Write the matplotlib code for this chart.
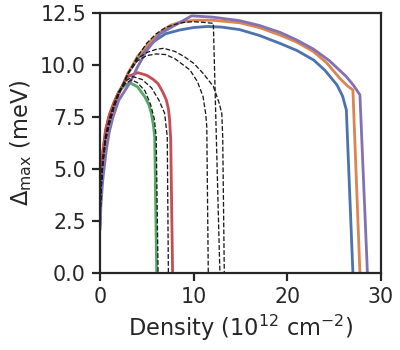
import matplotlib
matplotlib.use('Agg')
import matplotlib.pyplot as plt
import seaborn as sns

# solid curves: density (1e12 cm^-2) vs gap (meV)
blue_x = [0, 0.1, 0.3, 0.6, 1, 1.5, 2, 3, 4, 5.3, 7, 8.5, 10, 11.5, 13, 14.9, 17, 19.2, 21, 22.8, 24, 25.3, 25.9, 26.3, 27.0]
blue_y = [2.3, 3.9, 5.2, 6.4, 7.2, 8.0, 8.6, 9.6, 10.3, 11.0, 11.5, 11.68, 11.8, 11.85, 11.82, 11.7, 11.42, 11.04, 10.7, 10.24, 9.75, 9.04, 8.5, 7.84, 0]
orange_x = [0, 0.1, 0.3, 0.6, 1, 1.5, 2, 3, 4, 5.3, 6.5, 7.5, 8.5, 10, 12, 14.9, 17, 19.2, 21, 22.8, 24.2, 25.6, 26.4, 27.0, 27.75]
orange_y = [2.5, 4.0, 5.2, 6.4, 7.2, 8.0, 8.6, 9.6, 10.4, 11.1, 11.6, 11.9, 12.05, 12.15, 12.15, 12.03, 11.8, 11.44, 11.1, 10.64, 10.1, 9.36, 9.0, 8.8, 0]
green_x = [0, 0.1, 0.3, 0.6, 1, 1.5, 2, 2.6, 3.17, 4, 4.77, 5.2, 5.48, 5.7, 5.84, 6.05]
green_y = [3.0, 4.3, 5.8, 6.8, 7.6, 8.2, 8.7, 9.0, 9.15, 8.95, 8.48, 8.1, 7.68, 7.1, 6.55, 0]
red_x = [0, 0.1, 0.32, 0.6, 1, 1.5, 2, 3, 4.05, 5, 5.7, 6.2, 6.7, 7.08, 7.3, 7.43, 7.55, 7.75]
red_y = [3.5, 4.5, 5.9, 6.9, 7.6, 8.2, 8.7, 9.45, 9.63, 9.5, 9.3, 9.1, 8.7, 8.32, 7.9, 7.36, 6.4, 0]
purple_x = [0, 0.1, 0.3, 0.67, 1, 1.39, 2, 3.2, 4, 5, 6.4, 9.78, 12, 14.9, 17, 19.2, 21, 22.8, 24.5, 26.3, 27.1, 27.75, 28.55]
purple_y = [2.07, 3.3, 4.5, 5.9, 6.8, 7.5, 8.3, 9.15, 9.9, 10.7, 11.5, 12.36, 12.3, 12.13, 11.9, 11.57, 11.2, 10.76, 10.2, 9.44, 9.0, 8.56, 0]

# dashed reference curves
d1_x = [0, 0.1, 0.3, 0.6, 1, 1.5, 2, 2.7, 3.34, 4, 4.8, 5.4, 5.8, 6.0, 6.2]
d1_y = [2.5, 4.0, 5.5, 6.6, 7.4, 8.1, 8.7, 9.1, 9.28, 9.15, 8.75, 8.1, 7.4, 6.55, 0]
d2_x = [0, 0.1, 0.3, 0.6, 1, 1.5, 2, 2.8, 3.52, 4.5, 5.5, 6.3, 6.9, 7.18, 7.3]
d2_y = [2.5, 4.0, 5.5, 6.6, 7.4, 8.1, 8.7, 9.25, 9.44, 9.3, 8.9, 8.3, 7.68, 6.55, 0]
d3_x = [0, 0.1, 0.3, 0.6, 1, 1.5, 2, 3, 4, 5, 6, 7, 8, 9.6, 10.4, 11.0, 11.3, 11.4, 11.56]
d3_y = [2.5, 3.9, 5.3, 6.4, 7.2, 8.0, 8.6, 9.6, 10.2, 10.45, 10.53, 10.5, 10.3, 9.76, 9.2, 8.48, 7.6, 7.03, 0]
d4_x = [0, 0.1, 0.3, 0.6, 1, 1.5, 2, 3, 4, 5, 6, 6.8, 8, 9, 10, 11, 12.1, 12.7, 13.0, 13.1, 13.27]
d4_y = [2.5, 3.9, 5.3, 6.4, 7.2, 8.0, 8.6, 9.6, 10.3, 10.6, 10.75, 10.8, 10.65, 10.4, 10.08, 9.6, 8.97, 8.2, 7.68, 6.55, 0]
d5_x = [0, 0.1, 0.3, 0.6, 1, 1.5, 2, 3, 4, 5, 6, 7, 8, 9, 10, 11, 12.1, 12.8]
d5_y = [2.5, 3.9, 5.2, 6.4, 7.2, 8.0, 8.6, 9.6, 10.4, 11.05, 11.5, 11.8, 11.95, 12.05, 12.08, 12.05, 12.0, 0]

sns.set_theme(context='talk', style='ticks')
plt.rcParams['axes.linewidth'] = 2.2
pal = sns.color_palette('deep')

fig, ax = plt.subplots(figsize=(400 / 72, 350 / 72), dpi=72)
lw = 2.8
ax.plot(blue_x, blue_y, color=pal[0], lw=lw)
ax.plot(orange_x, orange_y, color=pal[1], lw=lw)
ax.plot(green_x, green_y, color=pal[2], lw=lw)
ax.plot(red_x, red_y, color=pal[3], lw=lw)
ax.plot(purple_x, purple_y, color=pal[4], lw=lw)
for dx, dy in [(d1_x, d1_y), (d2_x, d2_y), (d3_x, d3_y), (d4_x, d4_y), (d5_x, d5_y)]:
    ax.plot(dx, dy, 'k--', lw=1.3)

ax.set_xlim(0, 30)
ax.set_ylim(0, 12.5)
ax.set_xticks([0, 10, 20, 30])
ax.set_yticks([0, 2.5, 5, 7.5, 10, 12.5])
ax.tick_params(labelsize=20.5, length=8, width=2.2, pad=6)
ax.set_xlabel('Density ($10^{12}$ cm$^{-2}$)', fontsize=22.5, labelpad=6)
ax.set_ylabel(r'$\Delta_{\max}$ (meV)', fontsize=22.5, labelpad=6)

fig.subplots_adjust(left=0.25, right=0.9525, top=0.963, bottom=0.22)
fig.savefig('out.png', dpi=72)
